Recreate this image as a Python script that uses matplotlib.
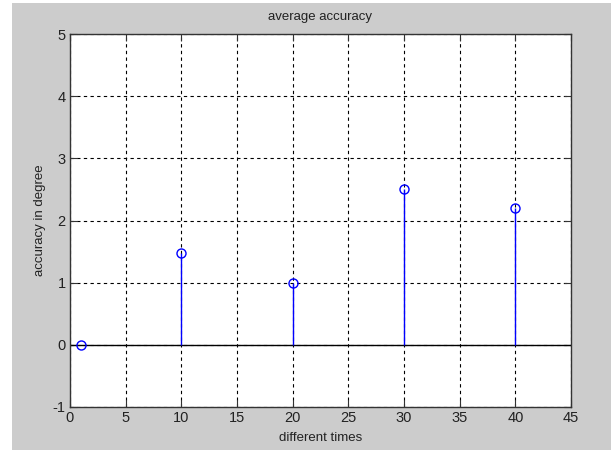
import matplotlib
matplotlib.use("Agg")
import matplotlib.pyplot as plt
from matplotlib.patches import Rectangle

# stem data
times = [1, 10, 20, 30, 40]
accuracy = [0.0, 1.47, 1.0, 2.5, 2.2]

xticks = [0, 5, 10, 15, 20, 25, 30, 35, 40, 45]
yticks = [-1, 0, 1, 2, 3, 4, 5]

plt.rcParams["font.family"] = ["Liberation Sans", "DejaVu Sans"]
plt.rcParams["axes.unicode_minus"] = False

fig = plt.figure(figsize=(6.11, 4.5), dpi=100, facecolor="white")
# grey matlab figure background
fig.patches.append(Rectangle((12 / 611, 0), 1, 447 / 450, transform=fig.transFigure,
                             facecolor="#cccccc", edgecolor="none", zorder=-5))

ax = fig.add_axes([70 / 611, 43 / 450, 501 / 611, 373 / 450])
ax.set_zorder(2)
ax.set_facecolor("white")

ax.axhline(0, color="black", lw=1.0, zorder=2)
markerline, stemlines, baseline = ax.stem(times, accuracy, basefmt=" ")
plt.setp(stemlines, color="#0000ff", lw=1.0, zorder=3)
plt.setp(markerline, color="#0000ff", marker="o", markersize=6.5,
         markerfacecolor="none", markeredgewidth=1.0, zorder=4)

ax.set_xlim(0, 45)
ax.set_ylim(-1, 5)
ax.set_xticks(xticks)
ax.set_yticks(yticks)
ax.grid(True, color="black", linestyle=(0, (3, 3)), lw=0.8)
ax.set_axisbelow(True)
ax.tick_params(direction="in", top=True, right=True, length=5, labelsize=10.5,
               color="#333333", labelcolor="#222222", pad=3)
for sp in ax.spines.values():
    sp.set_color("#333333")
    sp.set_linewidth(1.0)

ax.set_title("average accuracy", fontsize=9.5, color="#222222", pad=10)
ax.set_xlabel("different times", fontsize=9.5, color="#222222", labelpad=5)
ax.set_ylabel("accuracy in degree", fontsize=9.5, color="#222222", labelpad=5)

fig.savefig("out.png", dpi=100, facecolor=fig.get_facecolor())
